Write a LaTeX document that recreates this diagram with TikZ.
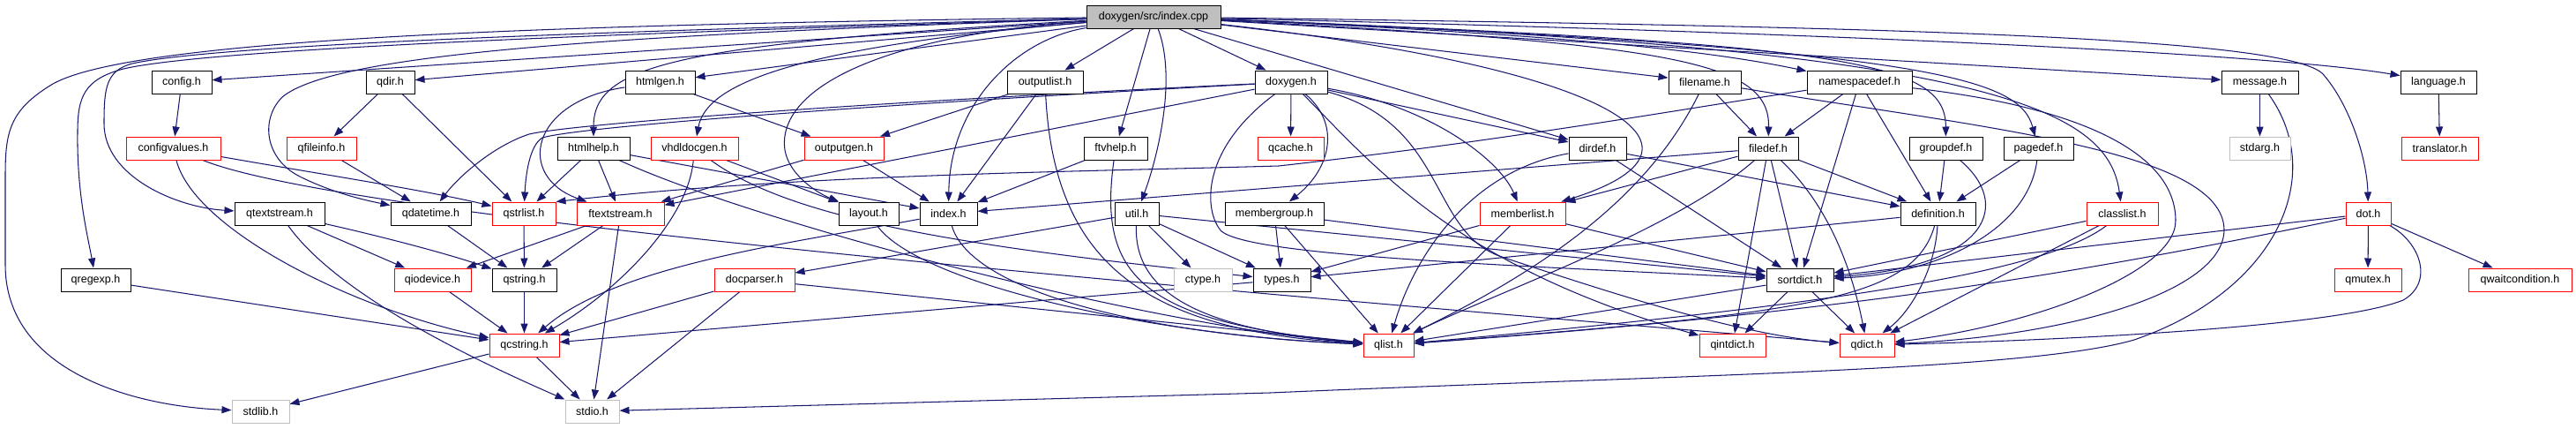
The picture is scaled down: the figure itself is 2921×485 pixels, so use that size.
\documentclass[tikz,border=0pt]{standalone}
\usepackage{fontspec}
\setmainfont{Liberation Sans}
\usetikzlibrary{arrows.meta}
\definecolor{edgeblue}{HTML}{191970}
\definecolor{nodered}{HTML}{FF0000}
\definecolor{sysgray}{HTML}{BFBFBF}
\pgfdeclarelayer{edgelayer}
\pgfsetlayers{edgelayer,main}
\tikzset{
 nb/.style={draw=black, fill=white, line width=1pt, minimum height=26pt, inner sep=0pt, font=\fontsize{12.5}{14}\selectfont},
 nr/.style={nb, draw=nodered},
 ng/.style={nb, draw=sysgray},
 rootnode/.style={nb, fill=sysgray},
 e/.style={draw=edgeblue, line width=1.05pt, -{Triangle[length=11pt,width=8pt]}},
}
\begin{document}
\begin{tikzpicture}[x=1pt,y=-1pt]
\useasboundingbox (0,0) rectangle (2921,485);
% row 1
\node[rootnode, minimum width=152pt] (cpp) at (1308,19) {doxygen/src/index.cpp};
% row 2
\node[nb, minimum width=68pt] (config) at (206,93) {config.h};
\node[nb, minimum width=55pt] (qdir) at (442.5,93) {qdir.h};
\node[nb, minimum width=79pt] (htmlgen) at (748.5,93) {htmlgen.h};
\node[nb, minimum width=86pt] (outputlist) at (1185,93) {outputlist.h};
\node[nb, minimum width=82pt] (doxygen) at (1464,93) {doxygen.h};
\node[nb, minimum width=82pt] (filename) at (1933,93) {filename.h};
\node[nb, minimum width=119pt] (namespacedef) at (2108.5,93) {namespacedef.h};
\node[nb, minimum width=87pt] (message) at (2562.5,93) {message.h};
\node[nb, minimum width=86pt] (language) at (2765,93) {language.h};
% row 3
\node[nr, minimum width=107pt] (configvalues) at (196.5,168) {configvalues.h};
\node[nr, minimum width=79pt] (qfileinfo) at (364.5,168) {qfileinfo.h};
\node[nb, minimum width=82pt] (htmlhelp) at (673,168) {htmlhelp.h};
\node[nr, minimum width=99pt] (vhdldocgen) at (787.5,168) {vhdldocgen.h};
\node[nr, minimum width=90pt] (outputgen) at (957,168) {outputgen.h};
\node[nb, minimum width=72pt] (ftvhelp) at (1265,168) {ftvhelp.h};
\node[nr, minimum width=75pt] (qcache) at (1463.5,168) {qcache.h};
\node[nb, minimum width=65pt] (dirdef) at (1811.5,168) {dirdef.h};
\node[nb, minimum width=68pt] (filedef) at (2005,168) {filedef.h};
\node[nb, minimum width=83pt] (groupdef) at (2206.5,168) {groupdef.h};
\node[nb, minimum width=79pt] (pagedef) at (2311.5,168) {pagedef.h};
\node[ng, minimum width=69pt] (stdarg) at (2562.5,168) {stdarg.h};
\node[nr, minimum width=87pt] (translator) at (2766.5,168) {translator.h};
% row 4
\node[nb, minimum width=102pt] (qtextstream) at (317,242) {qtextstream.h};
\node[nb, minimum width=91pt] (qdatetime) at (488.5,242) {qdatetime.h};
\node[nr, minimum width=72pt] (qstrlist) at (594,242) {qstrlist.h};
\node[nr, minimum width=99pt] (ftextstream) at (703.5,242) {ftextstream.h};
\node[nb, minimum width=68pt] (layout) at (985,242) {layout.h};
\node[nb, minimum width=65pt] (index) at (1075.5,242) {index.h};
\node[nb, minimum width=50pt] (util) at (1289,242) {util.h};
\node[nb, minimum width=112pt] (membergroup) at (1445,242) {membergroup.h};
\node[nr, minimum width=97pt] (memberlist) at (1726.5,242) {memberlist.h};
\node[nb, minimum width=85pt] (definition) at (2197.5,242) {definition.h};
\node[nr, minimum width=81pt] (classlist) at (2406.5,242) {classlist.h};
\node[nr, minimum width=51pt] (dot) at (2685.5,242) {dot.h};
% row 5
\node[nb, minimum width=79pt] (qregexp) at (108.5,317) {qregexp.h};
\node[nr, minimum width=87pt] (qiodevice) at (490.5,317) {qiodevice.h};
\node[nb, minimum width=73pt] (qstring) at (594.5,317) {qstring.h};
\node[nr, minimum width=91pt] (docparser) at (855.5,317) {docparser.h};
\node[ng, minimum width=66pt] (ctype) at (1364,317) {ctype.h};
\node[nb, minimum width=65pt] (types) at (1453.5,317) {types.h};
\node[nb, minimum width=76pt] (sortdict) at (2041,317) {sortdict.h};
\node[nr, minimum width=76pt] (qmutex) at (2685,317) {qmutex.h};
\node[nr, minimum width=117pt] (qwaitcondition) at (2857.5,317) {qwaitcondition.h};
% row 6
\node[nr, minimum width=79pt] (qcstring) at (594.5,391) {qcstring.h};
\node[nr, minimum width=57pt] (qlist) at (1574.5,391) {qlist.h};
\node[nr, minimum width=75pt] (qintdict) at (1964.5,391) {qintdict.h};
\node[nr, minimum width=62pt] (qdict) at (2117,391) {qdict.h};
% row 7
\node[ng, minimum width=65pt] (stdlib) at (295.5,466) {stdlib.h};
\node[ng, minimum width=61pt] (stdio) at (671.5,466) {stdio.h};

\begin{pgfonlayer}{edgelayer}
% edges from index.cpp
\draw[e] (cpp) -- (config);
\draw[e] (cpp) -- (qdir);
\draw[e] (cpp) -- (htmlgen);
\draw[e] (cpp) .. controls (760,50) and (673,75) .. (htmlhelp);
\draw[e] (cpp) .. controls (880,55) and (800,100) .. (vhdldocgen);
\draw[e] (cpp) -- (outputlist);
\draw[e] (cpp) -- (doxygen);
\draw[e] (cpp) .. controls (1150,45) and (1077,120) .. (index);
\draw[e] (cpp) -- (ftvhelp);
\draw[e] (cpp) .. controls (1335,90) and (1312,180) .. (util);
\draw[e] (cpp) .. controls (1000,40) and (880,100) .. (890,170) .. controls (895,200) and (930,220) .. (layout);
\draw[e] (cpp) .. controls (700,40) and (380,60) .. (320,110) .. controls (295,135) and (300,180) .. (340,200) .. controls (380,220) and (420,228) .. (qdatetime);
\draw[e] (cpp) .. controls (700,35) and (250,50) .. (150,72) .. controls (120,80) and (118,100) .. (118,140) .. controls (118,200) and (200,235) .. (qtextstream);
\draw[e] (cpp) .. controls (700,38) and (240,55) .. (140,78) .. controls (95,90) and (88,110) .. (88,150) .. controls (87,220) and (100,270) .. (qregexp);
\draw[e] (cpp) .. controls (600,28) and (150,45) .. (60,95) .. controls (10,125) and (6,150) .. (6,200) -- (6,300) .. controls (6,420) and (150,460) .. (stdlib);
\draw[e] (cpp) -- (filename);
\draw[e] (cpp) .. controls (1800,40) and (1950,60) .. (namespacedef);
\draw[e] (cpp) -- (message);
\draw[e] (cpp) .. controls (2200,40) and (2600,65) .. (language);
\draw[e] (cpp) .. controls (1900,50) and (2007,70) .. (filedef);
\draw[e] (cpp) .. controls (2100,50) and (2206,70) .. (groupdef);
\draw[e] (cpp) .. controls (2200,55) and (2290,90) .. (pagedef);
\draw[e] (cpp) .. controls (2250,55) and (2390,120) .. (classlist);
\draw[e] (cpp) .. controls (2100,30) and (2600,40) .. (2635,85) .. controls (2665,120) and (2684,180) .. (dot);
\draw[e] (cpp) -- (dirdef);
\draw[e] (cpp) .. controls (1850,80) and (1960,170) .. (memberlist);

% row 2 sources
\draw[e] (config) -- (configvalues);
\draw[e] (qdir) -- (qfileinfo);
\draw[e] (qdir) -- (qstrlist);
\draw[e] (htmlgen) -- (outputgen);
\draw[e] (htmlgen) .. controls (600,115) and (585,200) .. (ftextstream);
\draw[e] (outputlist) -- (outputgen);
\draw[e] (outputlist) -- (index);
\draw[e] (outputlist) .. controls (1195,300) and (1300,375) .. (qlist);
\draw[e] (doxygen) -- (qcache);
\draw[e] (doxygen) .. controls (1520,140) and (1510,190) .. (membergroup);
\draw[e] (doxygen) -- (dirdef);
\draw[e] (doxygen) .. controls (1620,120) and (1700,180) .. (memberlist);
\draw[e] (doxygen) .. controls (1560,190) and (1650,300) .. (qintdict);
\draw[e] (doxygen) .. controls (1640,140) and (1620,260) .. (1700,290) .. controls (1850,340) and (1980,380) .. (qdict);
\draw[e] (doxygen) .. controls (1360,170) and (1365,240) .. (1385,262) .. controls (1420,290) and (1700,300) .. (sortdict);
\draw[e] (doxygen) .. controls (1000,115) and (650,140) .. (600,152) .. controls (560,165) and (520,200) .. (qdatetime);
\draw[e] (doxygen) .. controls (1000,118) and (660,143) .. (615,156) .. controls (600,165) and (596,200) .. (qstrlist);
\draw[e] (doxygen) -- (ftextstream);
\draw[e] (filename) -- (filedef);
\draw[e] (filename) .. controls (1870,220) and (1760,300) .. (qlist);
\draw[e] (filename) .. controls (2250,145) and (2520,170) .. (2522,260) .. controls (2522,330) and (2350,380) .. (qdict);
\draw[e] (namespacedef) .. controls (2350,120) and (2467,170) .. (2467,250) .. controls (2467,310) and (2300,370) .. (qdict);
\draw[e] (namespacedef) -- (filedef);
\draw[e] (namespacedef) -- (definition);
\draw[e] (namespacedef) -- (sortdict);
\draw[e] (namespacedef) .. controls (1900,125) and (1700,160) .. (1450,188) .. controls (1200,195) and (900,198) .. (qstrlist.north east);
\draw[e] (message) -- (stdarg);
\draw[e] (message) .. controls (2640,200) and (2580,330) .. (2420,385) .. controls (2300,420) and (1900,425) .. (1440,445) -- (stdio);
\draw[e] (language) -- (translator);

% row 3 sources
\draw[e] (configvalues) .. controls (350,195) and (480,215) .. (qstrlist);
\draw[e] (configvalues) .. controls (220,260) and (400,350) .. (qcstring);
\draw[e] (configvalues) .. controls (400,250) and (1400,330) .. (qdict);
\draw[e] (qfileinfo) -- (qdatetime);
\draw[e] (htmlhelp) -- (qstrlist);
\draw[e] (htmlhelp) -- (ftextstream);
\draw[e] (htmlhelp) -- (index);
\draw[e] (htmlhelp) .. controls (850,250) and (1300,370) .. (qlist);
\draw[e] (vhdldocgen) .. controls (780,250) and (700,330) .. (qcstring);
\draw[e] (vhdldocgen) -- (layout);
\draw[e] (vhdldocgen) .. controls (900,250) and (1100,280) .. (types);
\draw[e] (outputgen) -- (index);
\draw[e] (outputgen) -- (ftextstream);
\draw[e] (ftvhelp) -- (index);
\draw[e] (ftvhelp) .. controls (1245,310) and (1290,365) .. (qlist);
\draw[e] (dirdef) .. controls (1660,195) and (1600,300) .. (qlist);
\draw[e] (dirdef) -- (sortdict);
\draw[e] (dirdef) -- (definition);
\draw[e] (filedef) -- (index);
\draw[e] (filedef) -- (memberlist);
\draw[e] (filedef) -- (definition);
\draw[e] (filedef) -- (sortdict);
\draw[e] (filedef) -- (qintdict);
\draw[e] (filedef) .. controls (2060,220) and (2095,280) .. (qdict);
\draw[e] (filedef) .. controls (1900,260) and (1700,330) .. (qlist);
\draw[e] (groupdef) -- (definition);
\draw[e] (groupdef) .. controls (2280,230) and (2260,300) .. (sortdict);
\draw[e] (pagedef) -- (definition);
\draw[e] (pagedef) .. controls (2300,260) and (2200,310) .. (sortdict);

% row 4 sources
\draw[e] (qtextstream) -- (qiodevice);
\draw[e] (qtextstream) .. controls (420,265) and (500,285) .. (qstring);
\draw[e] (qtextstream) .. controls (380,330) and (520,400) .. (stdio);
\draw[e] (qdatetime) -- (qstring);
\draw[e] (qstrlist) -- (qstring);
\draw[e] (ftextstream) -- (qiodevice);
\draw[e] (ftextstream) -- (qstring);
\draw[e] (ftextstream) -- (stdio);
\draw[e] (layout) .. controls (1040,320) and (1300,380) .. (qlist);
\draw[e] (index) .. controls (900,275) and (700,300) .. (qcstring);
\draw[e] (index) .. controls (1100,330) and (1300,380) .. (qlist);
\draw[e] (util) -- (docparser);
\draw[e] (util) -- (ctype);
\draw[e] (util) -- (types);
\draw[e] (util) .. controls (1285,340) and (1380,375) .. (qlist);
\draw[e] (util) -- (sortdict);
\draw[e] (membergroup) -- (types);
\draw[e] (membergroup) -- (qlist);
\draw[e] (membergroup) -- (sortdict);
\draw[e] (memberlist) -- (qlist);
\draw[e] (memberlist) -- (types);
\draw[e] (memberlist) -- (sortdict);
\draw[e] (definition) -- (types);
\draw[e] (definition) .. controls (2170,340) and (2050,355) .. (qlist);
\draw[e] (definition) .. controls (2195,300) and (2170,350) .. (qdict);
\draw[e] (classlist) -- (sortdict);
\draw[e] (classlist) .. controls (2330,300) and (2150,340) .. (qlist);
\draw[e] (classlist) -- (qdict);
\draw[e] (dot) -- (qmutex);
\draw[e] (dot) -- (qwaitcondition);
\draw[e] (dot) -- (sortdict);
\draw[e] (dot) .. controls (2400,300) and (2150,350) .. (qlist);
\draw[e] (dot) .. controls (2745,275) and (2760,320) .. (2725,340) .. controls (2650,370) and (2350,385) .. (qdict);

% row 5 sources
\draw[e] (qregexp) -- (qcstring);
\draw[e] (qiodevice) -- (qcstring);
\draw[e] (qstring) -- (qcstring);
\draw[e] (docparser) -- (qcstring);
\draw[e] (docparser) -- (stdio);
\draw[e] (docparser) -- (qlist);
\draw[e] (types) -- (qcstring);
\draw[e] (sortdict) -- (qlist);
\draw[e] (sortdict) -- (qintdict);
\draw[e] (sortdict) -- (qdict);

% row 6 sources
\draw[e] (qcstring) -- (stdio);
\draw[e] (qcstring) -- (stdlib);
\end{pgfonlayer}
\end{tikzpicture}
\end{document}
